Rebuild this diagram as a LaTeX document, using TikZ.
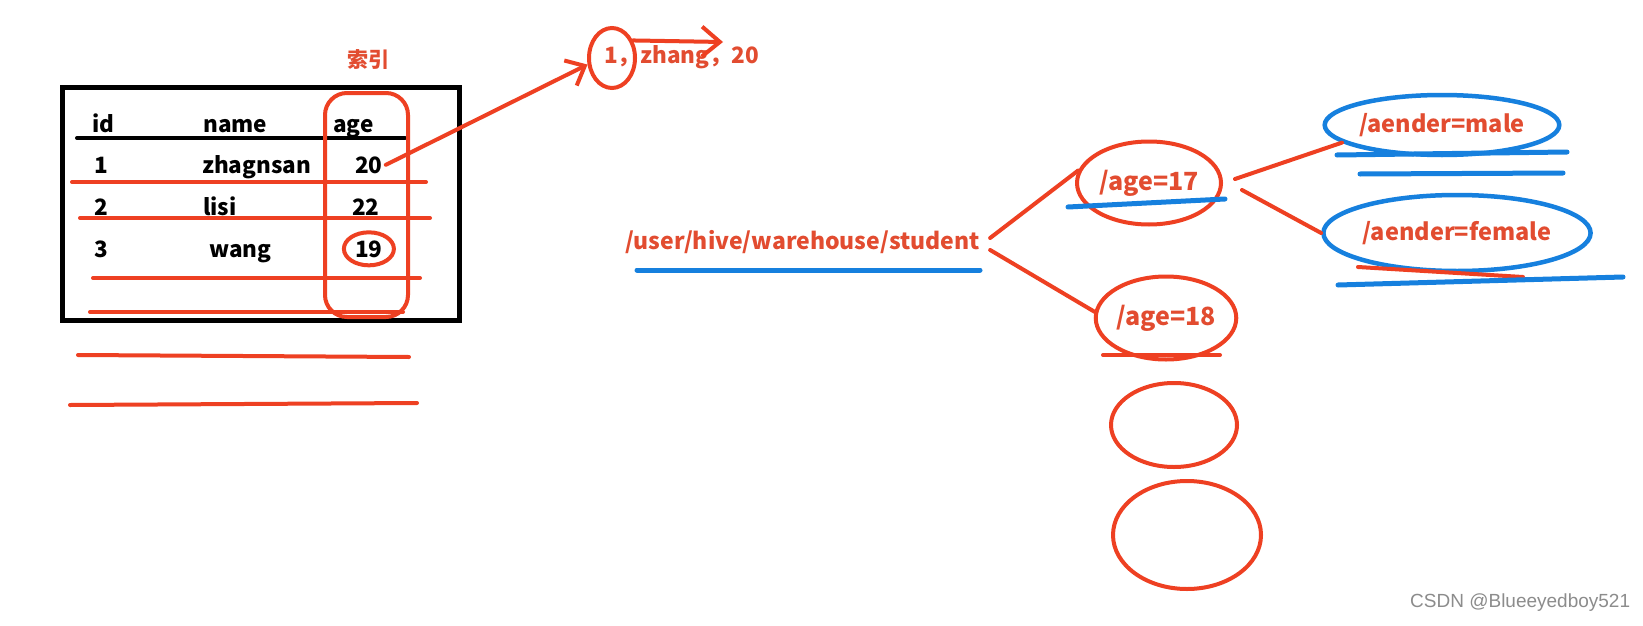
\documentclass[tikz,border=0pt]{standalone}
\usepackage{fontspec}
\setmainfont{Noto Sans CJK SC}
\setsansfont{Liberation Sans}
\usetikzlibrary{arrows.meta,shapes.geometric}
\definecolor{redpen}{RGB}{238,64,34}
\definecolor{redink}{RGB}{226,76,48}
\definecolor{bluepen}{RGB}{22,128,222}
\definecolor{wmgray}{RGB}{140,140,140}

\begin{document}
\begin{tikzpicture}[x=1pt,y=-1pt,
txt/.style={font=\fontsize{#1}{#1}\selectfont\bfseries,inner sep=0pt},txt/.default=22.5,rtxt/.style={txt=#1,text=redink},rtxt/.default=23,
redln/.style={draw=redpen,line width=4pt,line cap=round},blueln/.style={draw=bluepen,line width=5pt,line cap=round},
ring/.style={redln,ellipse,inner sep=0pt},bring/.style={blueln,ellipse,inner sep=0pt,line width=4.5pt}]
\useasboundingbox[fill=white](0,0)rectangle(1643,626);
\draw[line width=5pt](62,87)rectangle(459,320);\draw[line width=4pt,line cap=round](77,138)--(405,138);
\node[txt,anchor=base west](hid)at(92,132){id};\node[txt,anchor=base west](hname)at(203,132){name};\node[txt,anchor=base west](hage)at(333,132){age};
\node[txt,anchor=base west](i1)at(94,173){1};\node[txt,anchor=base west](n1)at(202,173){zhagnsan};\node[txt,anchor=base west](a1)at(355,173){20};
\node[txt,anchor=base west](i2)at(94,215){2};\node[txt,anchor=base west](n2)at(203,215){lisi};\node[txt,anchor=base west](a2)at(352,215){22};
\node[txt,anchor=base west](i3)at(94,257){3};\node[txt,anchor=base west](n3)at(209,257){wang};\node[txt,anchor=base west](a3)at(355,257){19};
\node[rtxt=21](idx)at(368,60){索引};
\draw[redln,rounded corners=22pt](325,93)rectangle(408,317);\node[ring,minimum width=50pt,minimum height=33pt](c19)at(a3){};
\draw[redln](72,182)--(426,182);\draw[redln](80,218)--(430,218);\draw[redln](93,278)--(420,278);\draw[redln](90,312)--(403,312);\draw[redln](78,355)--(409,357);\draw[redln](70,405)--(417,403);
\node[rtxt=22.5,anchor=west](row)at(604,57){1，zhang，20};\node[ring,minimum width=46pt,minimum height=60pt](rec)at(612,58){};
\draw[redln,-{Straight Barb[length=16pt,width=28pt]}]([xshift=3pt]a1.east)--(rec.195);
\coordinate(tip)at(723,42);\draw[redln,-{Straight Barb[length=18pt,width=30pt]}](rec.40)--(tip);
\node[rtxt,anchor=west](path)at(625,242){/user/hive/warehouse/student};\draw[blueln](637,270)--(980,270);
\node[ring,rtxt=25,minimum width=144pt,minimum height=83pt](a17)at(1149,183){/age=17};\draw[blueln](1068,207)--(1225,199);
\node[ring,rtxt=25,minimum width=124pt,minimum height=83pt](a18)at(1166,318){/age=18};\draw[redln](1103,355)--(1220,355);
\draw[redln]([shift={(10pt,4pt)}]path.east)--(a17.170);\draw[redln]([shift={(10pt,-8pt)}]path.east)--(a18.175);
\node[bring,rtxt=23.5,minimum width=215pt,minimum height=60pt](male)at(1442,125){/aender=male};\draw[blueln](1337,155)--(1567,152);\draw[blueln](1360,174)--(1563,173);
\node[bring,rtxt=23.5,minimum width=221pt,minimum height=76pt](female)at(1457,233){/aender=female};\draw[redln](1358,267)--(1523,277);\draw[blueln](1338,285)--(1623,277);
\draw[redln]([shift={(12pt,4pt)}]a17.east)--(male.190);\draw[redln]([shift={(19pt,-7pt)}]a17.east)--(female.west);
\node[ring,minimum width=126pt,minimum height=84pt](e1)at(1174,425){};\node[ring,minimum width=148pt,minimum height=108pt](e2)at(1187,535){};
\node[font=\sffamily\fontsize{19}{20}\selectfont,text=wmgray,anchor=west,inner sep=0pt](mark)at(1410,603){CSDN @Blueeyedboy521};
\end{tikzpicture}
\end{document}
